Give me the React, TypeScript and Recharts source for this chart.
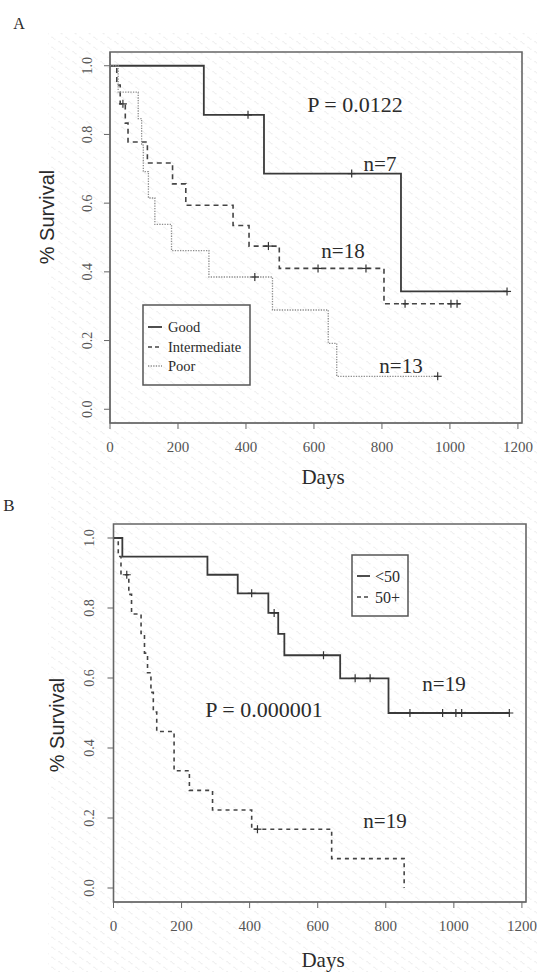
import { ComposedChart, Line, Scatter, XAxis, YAxis, ReferenceArea } from 'recharts';

type Pt = { t: number; s: number };
const pts = (rows: number[][]): Pt[] => rows.map(([t, s]) => ({ t, s }));

// axis ticks
const xTicks = [0, 200, 400, 600, 800, 1000, 1200];
const yTicks = [0, 0.2, 0.4, 0.6, 0.8, 1.0];

// Panel A – cytogenetic risk group (days, survival)
const goodSteps = [[0, 1], [276, 0.857], [453, 0.686], [856, 0.343], [1168, 0.343]];
const goodCensor = [[406, 0.857], [711, 0.686], [1168, 0.343]];

const interSteps = [
  [0, 1], [20, 0.944], [30, 0.889], [45, 0.833], [53, 0.778], [110, 0.717], [184, 0.656],
  [223, 0.594], [362, 0.535], [409, 0.475], [498, 0.41], [806, 0.307], [1030, 0.307],
];
const interCensor = [[38, 0.889], [466, 0.475], [612, 0.41], [753, 0.41], [868, 0.307], [1003, 0.307], [1021, 0.307]];

const poorSteps = [
  [0, 1], [24, 0.923], [83, 0.846], [93, 0.769], [98, 0.692], [113, 0.615], [132, 0.538],
  [181, 0.462], [291, 0.385], [478, 0.289], [642, 0.192], [667, 0.096], [964, 0.096],
];
const poorCensor = [[426, 0.385], [964, 0.096]];

// Panel B – age group
const youngSteps = [
  [0, 1], [26, 0.947], [276, 0.895], [365, 0.842], [455, 0.786], [484, 0.726], [502, 0.665],
  [666, 0.599], [808, 0.5], [1163, 0.5],
];
const youngCensor = [
  [406, 0.842], [472, 0.786], [617, 0.665], [710, 0.599], [754, 0.599], [871, 0.5],
  [967, 0.5], [1006, 0.5], [1023, 0.5], [1163, 0.5],
];

const oldSteps = [
  [0, 1], [14, 0.947], [22, 0.895], [45, 0.839], [53, 0.783], [81, 0.727], [91, 0.671],
  [100, 0.615], [110, 0.559], [117, 0.503], [127, 0.447], [178, 0.335], [223, 0.279],
  [291, 0.223], [406, 0.168], [641, 0.084], [854, 0],
];
const oldCensor = [[39, 0.895], [423, 0.168]];

const SERIF = '"Liberation Serif", "DejaVu Serif", serif';
const SANS = '"Liberation Sans", Arial, sans-serif';
const AXIS = '#666';
const INK = '#2b2b2b';

type Series = { steps: number[][]; censor: number[][]; stroke: string; width: number; dash?: string };

const Plus = (props: any) => {
  const { cx, cy } = props;
  if (cx == null || cy == null) return null;
  return (
    <g stroke="#333" strokeWidth={1.2}>
      <line x1={cx - 4} x2={cx + 4} y1={cy} y2={cy} />
      <line x1={cx} x2={cx} y1={cy - 4} y2={cy + 4} />
    </g>
  );
};

const YTick = (props: any) => {
  const { x, y, payload } = props;
  return (
    <text
      x={x}
      y={y}
      transform={`rotate(-90 ${x} ${y})`}
      textAnchor="middle"
      fontFamily={SERIF}
      fontSize={14}
      fill="#555"
    >
      {Number(payload.value).toFixed(1)}
    </text>
  );
};

function KMPanel({
  series,
  margin,
  yTickMargin,
}: {
  series: Series[];
  margin: { top: number; right: number; bottom: number; left: number };
  yTickMargin: number;
}) {
  return (
    <ComposedChart width={537} height={486} margin={margin}>
      <ReferenceArea x1={0} x2={1212} y1={-0.04} y2={1.04} fill="none" stroke={AXIS} strokeWidth={1.6} ifOverflow="visible" />
      <XAxis
        type="number"
        dataKey="t"
        domain={[0, 1212]}
        allowDataOverflow
        ticks={xTicks}
        height={30}
        tickSize={6}
        tickMargin={12}
        stroke={AXIS}
        tick={{ fontFamily: SERIF, fontSize: 15, fill: '#555' }}
      />
      <YAxis
        type="number"
        dataKey="s"
        domain={[-0.04, 1.04]}
        allowDataOverflow
        ticks={yTicks}
        width={50}
        tickSize={6}
        tickMargin={yTickMargin}
        stroke={AXIS}
        tick={<YTick />}
      />
      {series.map((g, i) => (
        <Line
          key={'l' + i}
          data={pts(g.steps)}
          dataKey="s"
          type="stepAfter"
          stroke={g.stroke}
          strokeWidth={g.width}
          strokeDasharray={g.dash}
          dot={false}
          activeDot={false}
          isAnimationActive={false}
        />
      ))}
      {series.map((g, i) => (
        <Scatter key={'c' + i} data={pts(g.censor)} dataKey="s" shape={<Plus />} isAnimationActive={false} />
      ))}
    </ComposedChart>
  );
}

const seriesA: Series[] = [
  { steps: goodSteps, censor: goodCensor, stroke: '#3a3a3a', width: 1.8 },
  { steps: interSteps, censor: interCensor, stroke: '#444', width: 1.6, dash: '5 4' },
  { steps: poorSteps, censor: poorCensor, stroke: '#8c8c8c', width: 1.3, dash: '1.3 1.3' },
];
const seriesB: Series[] = [
  { steps: youngSteps, censor: youngCensor, stroke: '#3a3a3a', width: 1.8 },
  { steps: oldSteps, censor: oldCensor, stroke: '#444', width: 1.6, dash: '4 4' },
];

export default function App() {
  const txt = { fontFamily: SERIF, fill: INK, dominantBaseline: 'central' as const };
  return (
    <div style={{ position: 'absolute', left: 0, top: 0, width: 537, height: 972, background: '#fff' }}>
      <svg width={537} height={972} style={{ position: 'absolute', left: 0, top: 0 }}>
        <defs>
          <pattern id="wm" width={14} height={10} patternUnits="userSpaceOnUse">
            <path d="M2 3 q1.2 -1.2 2.4 0 t2.4 0" fill="none" stroke="#e4e4e4" strokeWidth={0.7} transform="rotate(25 5 3)" />
            <path d="M9 8 q1.2 -1.2 2.4 0 t2.4 0" fill="none" stroke="#e8e8e8" strokeWidth={0.7} transform="rotate(25 11 8)" />
          </pattern>
        </defs>
        <rect x={48} y={33} width={489} height={939} fill="url(#wm)" />
      </svg>
      <div style={{ position: 'absolute', left: 0, top: 0 }}>
        <KMPanel series={seriesA} margin={{ top: 52, right: 15, bottom: 33, left: 60 }} yTickMargin={12} />
      </div>
      <div style={{ position: 'absolute', left: 0, top: 486 }}>
        <KMPanel series={seriesB} margin={{ top: 38, right: 11, bottom: 40, left: 63.5 }} yTickMargin={14} />
      </div>
      <svg width={537} height={972} style={{ position: 'absolute', left: 0, top: 0, pointerEvents: 'none' }}>
        <text x={19} y={23} fontSize={16} textAnchor="middle" {...txt}>A</text>
        <text x={9} y={505} fontSize={17} textAnchor="middle" {...txt}>B</text>

        <text x={47} y={217} fontSize={20} textAnchor="middle" fontFamily={SANS} fill={INK} dominantBaseline="central" transform="rotate(-90 47 217)">% Survival</text>
        <text x={57} y={725} fontSize={20} textAnchor="middle" fontFamily={SANS} fill={INK} dominantBaseline="central" transform="rotate(-90 57 725)">% Survival</text>
        <text x={323} y={477} fontSize={21} textAnchor="middle" {...txt}>Days</text>
        <text x={323} y={960} fontSize={21} textAnchor="middle" {...txt}>Days</text>

        <text x={355} y={104} fontSize={22} textAnchor="middle" {...txt}>P = 0.0122</text>
        <text x={380} y={164} fontSize={21} textAnchor="middle" {...txt}>n=7</text>
        <text x={343} y={251} fontSize={21} textAnchor="middle" {...txt}>n=18</text>
        <text x={401} y={366} fontSize={21} textAnchor="middle" {...txt}>n=13</text>

        <text x={264} y={709} fontSize={22} textAnchor="middle" {...txt}>P = 0.000001</text>
        <text x={444} y={684} fontSize={21} textAnchor="middle" {...txt}>n=19</text>
        <text x={385} y={821} fontSize={21} textAnchor="middle" {...txt}>n=19</text>

        {/* legend A */}
        <rect x={143} y={305} width={107} height={80} fill="none" stroke="#555" strokeWidth={1.5} />
        <line x1={148} x2={162} y1={327} y2={327} stroke="#3a3a3a" strokeWidth={1.8} />
        <line x1={148} x2={162} y1={347} y2={347} stroke="#444" strokeWidth={1.6} strokeDasharray="4 3" />
        <line x1={148} x2={162} y1={366} y2={366} stroke="#8c8c8c" strokeWidth={1.3} strokeDasharray="1.3 1.3" />
        <text x={168} y={327} fontSize={14.5} {...txt}>Good</text>
        <text x={168} y={347} fontSize={14.5} {...txt}>Intermediate</text>
        <text x={168} y={366} fontSize={14.5} {...txt}>Poor</text>

        {/* legend B */}
        <rect x={352} y={555} width={56} height={61} fill="none" stroke="#555" strokeWidth={1.5} />
        <line x1={357} x2={370} y1={576} y2={576} stroke="#3a3a3a" strokeWidth={1.8} />
        <line x1={357} x2={370} y1={597} y2={597} stroke="#444" strokeWidth={1.6} strokeDasharray="4 3" />
        <text x={375} y={576} fontSize={16} {...txt}>&lt;50</text>
        <text x={375} y={597} fontSize={16} {...txt}>50+</text>
      </svg>
    </div>
  );
}
